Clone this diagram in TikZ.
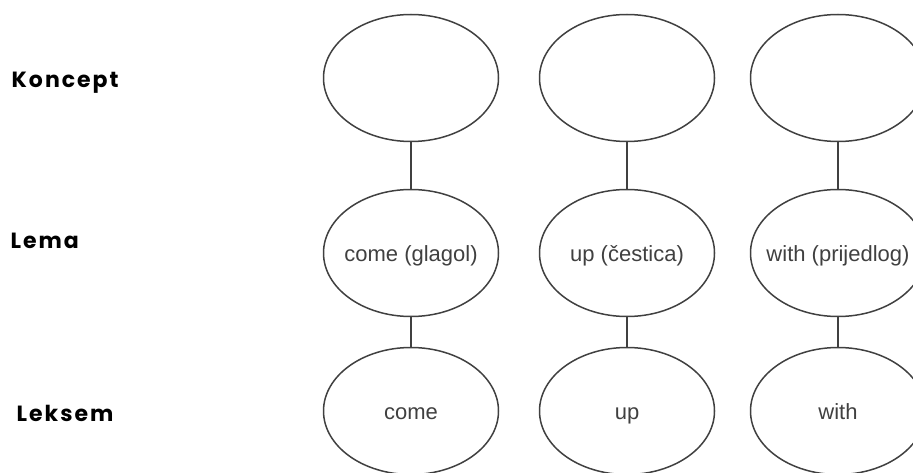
\documentclass[tikz,border=0pt]{standalone}
\usepackage{fontspec}
\setmainfont{Liberation Sans}
\newfontfamily\lblfont{Poppins}[LetterSpace=9]
\usetikzlibrary{shapes.geometric}
\definecolor{linegray}{HTML}{404040}
\begin{document}
\begin{tikzpicture}[x=1pt,y=-1pt,
	el/.style={draw=linegray,line width=1.5pt,ellipse,minimum width=175pt,minimum height=127pt,inner sep=0pt,text=linegray,text height=20pt,text depth=3pt,font=\fontsize{22}{26}\selectfont},
	con/.style={draw=linegray,line width=1.5pt},
	lbl/.style={anchor=base west,inner sep=0pt,font=\lblfont\bfseries\fontsize{22}{25}\selectfont}]
	\useasboundingbox (0,0) rectangle (913,473);
	\clip (0,0) rectangle (913,473);
	\foreach \n/\x/\a/\b in {1/411/come (glagol)/come,2/627/up (čestica)/up,3/838/with (prijedlog)/with}{
		\node[el] (k\n) at (\x,78) {};
		\node[el] (l\n) at (\x,253) {\makebox[0pt]{\a}};
		\node[el] (x\n) at (\x,411) {\makebox[0pt]{\b}};
		\draw[con] (k\n)--(l\n) (l\n)--(x\n);
	}
	\node[lbl] (koncept) at (11.5,88) {Koncept};
	\node[lbl] (lema) at (10.5,248) {Lema};
	\node[lbl] (leksem) at (16.5,421.5) {Leksem};
\end{tikzpicture}
\end{document}
